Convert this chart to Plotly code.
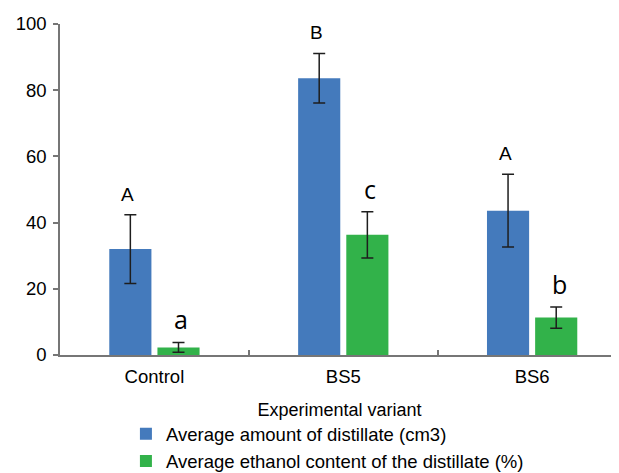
import plotly.graph_objects as go

categories = ["Control", "BS5", "BS6"]
distillate = [32.0, 83.6, 43.6]
distillate_err = [10.4, 7.5, 11.0]
distillate_letters = ["A", "B", "A"]
ethanol = [2.3, 36.3, 11.3]
ethanol_err = [1.5, 7.0, 3.2]
ethanol_letters = ["a", "c", "b"]
y_ticks = [0, 20, 40, 60, 80, 100]

BLUE = "rgb(68,122,188)"
GREEN = "rgb(50,178,74)"
AXIS = "rgb(118,118,118)"
FONT = "Liberation Sans, Arial"

fig = go.Figure()
fig.add_trace(go.Bar(
    x=categories, y=distillate, name="Average amount of distillate (cm3)",
    marker=dict(color=BLUE, line=dict(width=0)),
    error_y=dict(type="data", array=distillate_err, color="rgb(30,30,30)", thickness=1.5, width=6),
))
fig.add_trace(go.Bar(
    x=categories, y=ethanol, name="Average ethanol content of the distillate (%)",
    marker=dict(color=GREEN, line=dict(width=0)),
    error_y=dict(type="data", array=ethanol_err, color="rgb(30,30,30)", thickness=1.5, width=6),
))

for c, v, e, t in zip(categories, distillate, distillate_err, distillate_letters):
    fig.add_annotation(x=c, y=v + e, text=t, showarrow=False, xshift=-27, yshift=8,
                       yanchor="bottom", font=dict(family=FONT, size=19, color="black"))
for c, v, e, t in zip(categories, ethanol, ethanol_err, ethanol_letters):
    fig.add_annotation(x=c, y=v + e, text=t, showarrow=False, xshift=27, yshift=4,
                       yanchor="bottom", font=dict(family="Open Sans", size=25, color="black"))

# The page shows the figure offset by the body margin (8px), so the figure is
# sized 8px smaller in each direction to fill the 619x473 window.
fig.update_layout(
    width=611, height=465,
    margin=dict(l=52, r=0, t=16, b=118, autoexpand=False),
    paper_bgcolor="white", plot_bgcolor="white",
    barmode="group", bargap=0.49, bargroupgap=0.125,
    font=dict(family=FONT, size=18, color="black"),
    showlegend=True,
    legend=dict(xref="container", yref="container", x=0.193, y=0.124,
                xanchor="left", yanchor="top", orientation="v",
                font=dict(size=18.5), bgcolor="rgba(0,0,0,0)", tracegroupgap=0),
)
fig.update_xaxes(
    range=[-0.5, 2.46], showline=True, linecolor=AXIS, linewidth=1.5,
    ticks="inside", tickson="boundaries", ticklen=5, tickcolor=AXIS, tickwidth=1.5,
    showgrid=False, zeroline=False, tickfont=dict(size=18.5), ticklabelstandoff=4,
    title=dict(text="Experimental variant", font=dict(size=18), standoff=17),
)
fig.update_yaxes(
    range=[0, 100], tickvals=y_ticks, showline=True, linecolor=AXIS, linewidth=1.5,
    ticks="outside", ticklen=5, tickcolor=AXIS, tickwidth=1.5,
    showgrid=False, zeroline=False, tickfont=dict(size=18.5), ticklabelstandoff=3,
)

fig.write_html("out.html")
